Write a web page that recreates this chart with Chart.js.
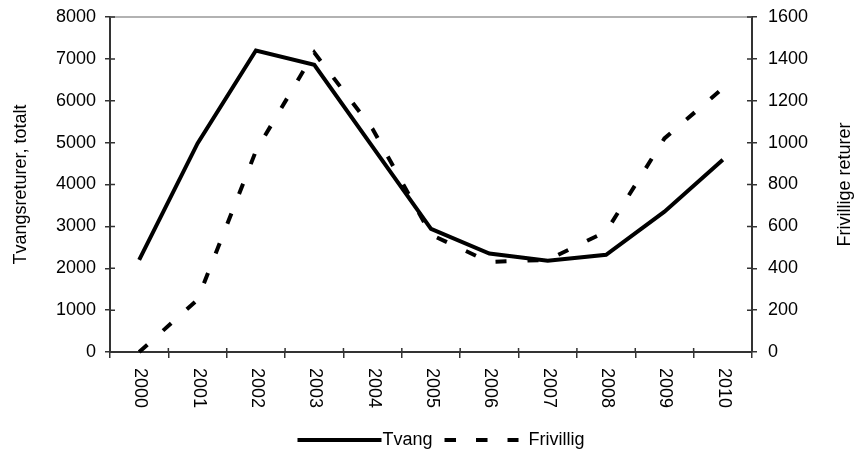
<!DOCTYPE html>
<html>
<head>
<meta charset="utf-8">
<script src="https://cdn.jsdelivr.net/npm/chart.js@4/dist/chart.umd.min.js"></script>
<style>
  html, body { margin: 0; padding: 0; background: #fff; }
</style>
</head>
<body>
<canvas id="myChart" width="856" height="454"></canvas>
<script>
var years = ["2000", "2001", "2002", "2003", "2004", "2005", "2006", "2007", "2008", "2009", "2010"];
var tvang = [2200, 4980, 7200, 6860, 4900, 2940, 2350, 2180, 2320, 3350, 4590];
var frivillig = [0, 250, 960, 1430, 1065, 560, 430, 440, 575, 1020, 1260];

var leftMax = 8000, leftStep = 1000;
var rightMax = 1600, rightStep = 200;

var leftTitle = "Tvangsreturer, totalt";
var rightTitle = "Frivillige returer";

var FONT = '"Liberation Sans", Arial, sans-serif';
var AXIS = "#333";

Chart.defaults.font.family = FONT;
Chart.defaults.font.size = 18;
Chart.defaults.color = "#000";

// labels drawn by hand: x ticks read top-to-bottom, right title bottom-to-top, legend
var extras = {
  id: "extras",
  afterDraw: function (chart) {
    var ctx = chart.ctx;
    var a = chart.chartArea;
    var xs = chart.scales.x;
    var yl = chart.scales.y;
    var yr = chart.scales.y1;

    ctx.save();
    // top frame line
    ctx.strokeStyle = "#999";
    ctx.lineWidth = 1.5;
    ctx.beginPath();
    ctx.moveTo(a.left, a.top);
    ctx.lineTo(a.right, a.top);
    ctx.stroke();

    // inner half of the tick marks
    ctx.strokeStyle = AXIS;
    ctx.lineWidth = 1.5;
    ctx.beginPath();
    yl.ticks.forEach(function (t, i) {
      var y = yl.getPixelForTick(i);
      ctx.moveTo(a.left, y);
      ctx.lineTo(a.left + 5, y);
    });
    yr.ticks.forEach(function (t, i) {
      var y = yr.getPixelForTick(i);
      ctx.moveTo(a.right, y);
      ctx.lineTo(a.right - 5, y);
    });
    var step = xs.getPixelForValue(1) - xs.getPixelForValue(0);
    for (var k = 0; k <= years.length; k++) {
      var x = xs.getPixelForValue(k) - step / 2;
      ctx.moveTo(x, a.bottom);
      ctx.lineTo(x, a.bottom - 4);
    }
    ctx.stroke();

    // x labels rotated clockwise
    ctx.fillStyle = "#000";
    ctx.font = "18px " + FONT;
    ctx.textAlign = "left";
    ctx.textBaseline = "middle";
    years.forEach(function (yr_, i) {
      ctx.save();
      ctx.translate(xs.getPixelForValue(i) + 1, a.bottom + 16);
      ctx.rotate(Math.PI / 2);
      ctx.fillText(yr_, 0, 0);
      ctx.restore();
    });

    // right axis title, reading upwards
    ctx.save();
    ctx.translate(chart.width - 11, (a.top + a.bottom) / 2);
    ctx.rotate(-Math.PI / 2);
    ctx.textAlign = "center";
    ctx.fillText(rightTitle, 0, 0);
    ctx.restore();

    // legend
    var ds = chart.data.datasets;
    var w1 = ctx.measureText(ds[0].label).width;
    var w2 = ctx.measureText(ds[1].label).width;
    var total = 84 + 1 + w1 + 12 + 74 + 10 + w2;
    var x0 = chart.width / 2 + 13 - total / 2;
    var ly = 440;
    ctx.lineWidth = 4;
    ctx.lineCap = "butt";
    ctx.strokeStyle = "#000";
    ctx.beginPath();
    ctx.moveTo(x0, ly);
    ctx.lineTo(x0 + 84, ly);
    ctx.stroke();
    ctx.fillText(ds[0].label, x0 + 85, ly);
    var x1 = x0 + 85 + w1 + 12;
    ctx.setLineDash([11.5, 20]);
    ctx.beginPath();
    ctx.moveTo(x1, ly);
    ctx.lineTo(x1 + 74, ly);
    ctx.stroke();
    ctx.setLineDash([]);
    ctx.fillText(ds[1].label, x1 + 84, ly);
    ctx.restore();
  }
};

function plain(v) { return String(v); }

function fixY(width) {
  return function (s) {
    s.width = width;
    s.paddingTop = 0;
    s.paddingBottom = 0;
  };
}

var ctx = document.getElementById("myChart");

var myChart = new Chart(ctx, {
  type: "line",
  data: {
    labels: years,
    datasets: [
      {
        label: "Tvang",
        data: tvang,
        yAxisID: "y",
        borderColor: "#000",
        backgroundColor: "#000",
        borderWidth: 4,
        pointRadius: 0,
        tension: 0,
        clip: false
      },
      {
        label: "Frivillig",
        data: frivillig,
        yAxisID: "y1",
        borderColor: "#000",
        backgroundColor: "#000",
        borderWidth: 4,
        borderDash: [11, 21],
        borderCapStyle: "butt",
        pointRadius: 0,
        tension: 0,
        clip: false
      }
    ]
  },
  options: {
    responsive: false,
    animation: false,
    layout: { padding: { top: 17, left: 0, right: 0, bottom: 0 } },
    plugins: {
      legend: { display: false },
      tooltip: { enabled: false }
    },
    scales: {
      x: {
        type: "category",
        offset: true,
        grid: { offset: true, drawOnChartArea: false, tickLength: 6, color: AXIS, lineWidth: 1.5 },
        border: { color: AXIS, width: 2 },
        ticks: { display: false },
        afterFit: function (s) { s.height = 102; }
      },
      y: {
        position: "left",
        min: 0,
        max: leftMax,
        ticks: { stepSize: leftStep, padding: 9, callback: plain },
        grid: { drawOnChartArea: false, tickLength: 5, color: AXIS, lineWidth: 1.5 },
        border: { color: AXIS, width: 2 },
        title: { display: true, text: leftTitle, padding: { top: 10, bottom: 0 } },
        afterFit: fixY(110)
      },
      y1: {
        position: "right",
        min: 0,
        max: rightMax,
        ticks: { stepSize: rightStep, padding: 11, callback: plain },
        grid: { drawOnChartArea: false, tickLength: 5, color: AXIS, lineWidth: 1.5 },
        border: { color: AXIS, width: 2 },
        afterFit: fixY(104)
      }
    }
  },
  plugins: [extras]
});
</script>
</body>
</html>
